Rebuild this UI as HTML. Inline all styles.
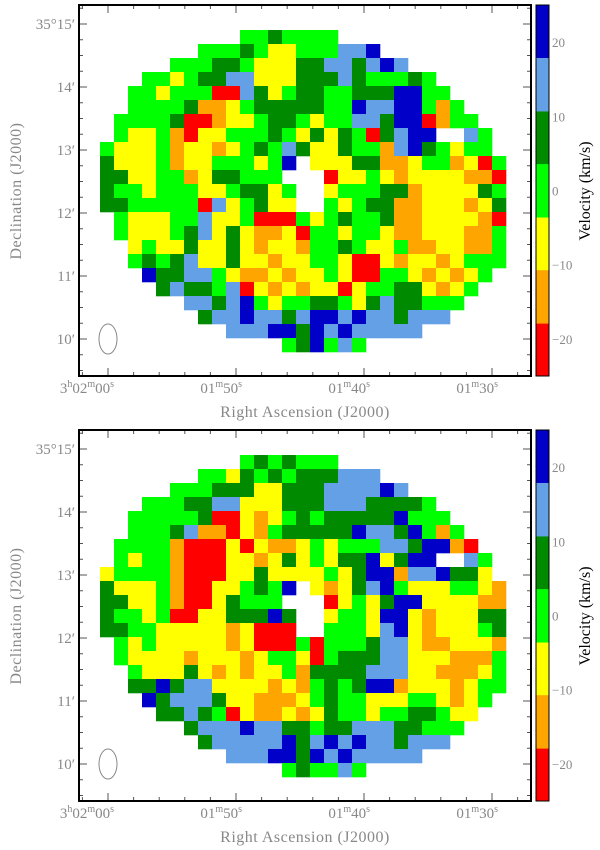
<!DOCTYPE html>
<html><head><meta charset="utf-8"><style>
body{margin:0;background:#fff}
svg{display:block;font-family:"Liberation Serif",serif}
</style></head><body>
<svg id="fig" width="600" height="850" viewBox="0 0 600 850" xmlns="http://www.w3.org/2000/svg"></svg>
<script>
// velocity bins (km/s), colours and grid codes
const binCodes=['R','O','Y','G','D','L','B'];
const binLow=[-25,-17.9,-10.7,-3.6,3.6,10.7,17.9];
const binColors=['#ff0000','#ffa500','#ffff00','#00ff00','#008a00','#64a0e6','#0000c8'];
const cbTicks=[20,10,0,-10,-20];
const decTicks=["35°15′","14′","13′","12′","11′","10′"];
const raTicks=[["3","h","02","m","00","s"],["01","m","50","s"],["01","m","40","s"],["01","m","30","s"]];
const topGrid=[
"GGGGGGGGGGGGDGGGGLGGLLGGGGGGGG",
"GGGGGGGGGGDGYYGGGLLBLLBLGGGGGG",
"GGGGGGGGDDGYYYDDLLDLBLLGGGGGGG",
"GGGGGYGDDLLYYYDDDLDGGGDGGGGGGG",
"GGGGYGGGRRLDYGDDGGDDDBBGGGGGGG",
"GGGGGGDOOYGDDDDDGGBLLBBGOGGGGG",
"GGGGGDRROYYGDDGYGGLLDBBROGGGGG",
"GGYYGORYYGGGDGYDYDGRDLBB..LGGG",
"GYYYGOYYOYGDGLDYYDGGOLBDGYGGGG",
"DYYYGOYYGGGYGB.YYYDDOOYGGOYRGG",
"DDYYGGOYDDGGG.RRRYYGYOYYYYOORG",
"DGGYGGGYYGDDYG.RYGGGDDOYYYYDGG",
"DDGGGGGRLYGDYYRRGYGDDOOYYYOYDG",
"GGYYYGGLYYGRRRGYGDGGDOOYYYYORG",
"GGYYYGDLYDYOOYRGGYGGYOOYYYOOGG",
"GDYGYYDYYDYOYYOGGDGYYGOOYYOOGG",
"DDGDGDLYYDYYOYYGGYRRYOYYOYGGGG",
"DDDBDDLLGYOOYOYYGYRRGGYOYOYGGG",
"DDDDDLDDGLRYOYOYYRYGGDDYOYGGGG",
"LLLLLDLLDLBGYGGDDGYDLDDGGGGGGG",
"LLLLLLLDLLBLLDLBBLBLLDLLLLLLLL",
"LLLLLLLLDLLLBBDBLBLLLLLLLLLLLL",
"GGGGGGGGGGGGDGDBGLGGGGGGGGGGGG"];
const botGrid=[
"GGGGGGGGGGGDGDGGGLGGGGGGGGGGGG",
"GGGGGGGGGYDGDGDDDLLLBLLGGGGGGG",
"GGGGGGGGDDDYYDDDLLLLBLLGGGGGGG",
"GGGGGGDDLLYYYDDDLLLDDDDGGGGGGG",
"GGGGGGGDRRYOYGDGDDDDDBGGGGGGGG",
"GGGGGDLOORYOGDDDDDBLLDBGOGGGGG",
"GGGGGORRRYRYOOYGYGGGLLDBBOROGG",
"GGYGGORRRYYOYDYGYDDBYDBB..LGGG",
"YGGGGORRRYYDYYYYGYDBBOLLBDDYGG",
"DYYYGORRYYGDGB.YOYDLBGYYYGGYOG",
"DDYYGORRYDGGG.RRRYGYDBBYYYYOOR",
"DGGYGRRYYDDDBD.RYGGYBBYOYYYDDG",
"DDGGYYYYYOYRRRRRGGGYLBYOYYYGDR",
"GGYGYYYYYOYRRRGRGGGDLLYOOYYYOR",
"GGYYYYOYYYOYGGYRGDDDLLYYYOOOGG",
"GDGYYYDYOYOYYGODDDDLLLYYOOOYGG",
"DDDDBDLLYYYYOYOGDGDBBOYYYOYGGG",
"DDDBDLLLDYYOOOYGDGGYYYGGYOYGGG",
"DDDDDDLDGRYOOYOYDGGYGGDDGYYGGG",
"LLLLLDDLLLBLLDDGDDLLLDDGGGGGGG",
"LLLLLLLDLLLLLBDLBLBLLDLLLLLLLL",
"LLLLLLLLDLLLBBDBLBLLLLLLLLLLLL",
"GGGGGGGGGGGGDGDGGLGGGGGGGGGGGG"];

const NS='http://www.w3.org/2000/svg';
const svg=document.getElementById('fig');
function mk(tag,attrs,parent){const e=document.createElementNS(NS,tag);for(const k in attrs)e.setAttribute(k,attrs[k]);(parent||svg).appendChild(e);return e;}
const X0=79,X1=531,CELL=14,GX=100;
// axis functions
function raX(i){return 108+128*i;}
function decY(i,top){return top+19+63*i;}
function cbY(v,top){return top+185.5-v*7.42;}
function colorOf(code){const i=binCodes.indexOf(code);return binColors[i];}

function panel(top,grid,idx){
  const g=mk('g',{});
  
  
  const bot=top+371;
  const cx=307,cy=top+186,a=207,b=156,th=10*Math.PI/180;
  const cells=mk('g',{},g);
  
  
  grid.forEach((row,r)=>{
    for(let c=0;c<30;c++){
      const ch=row[c]||'G';
      if(ch==='.')continue;
      const x=GX+c*CELL+7,y=top+25+r*CELL+7;
      const dx=x-cx,dy=y-cy;
      const u=dx*Math.cos(th)+dy*Math.sin(th),v=-dx*Math.sin(th)+dy*Math.cos(th);
      if((u/a)**2+(v/b)**2>1)continue;
      if(((x-307)/16)**2+((y-(top+184))/25)**2<=1)continue;
      const rc=mk('rect',{x:GX+c*CELL,y:top+25+r*CELL,width:CELL+0.3,height:CELL+0.3,fill:colorOf(ch)},cells);
      
      
    }
  });
  // beam
  const be=mk('ellipse',{cx:108,cy:decY(5,top),rx:9,ry:15,fill:'none',stroke:'#888','stroke-width':1},g);
  
  
  // ticks
  const tk=mk('g',{stroke:'#555','stroke-width':1},g);
  
  
  for(let i=-1;i<=4;i++){for(let k=0;k<5;k++){const x=raX(i)+k*25.6;if(x<=X0+1||x>=X1-1)continue;const L=k?4:8;
    mk('line',{x1:x,y1:bot,x2:x,y2:bot-L},tk);mk('line',{x1:x,y1:top,x2:x,y2:top+L},tk);}}
  for(let i=-1;i<=6;i++){for(let k=0;k<4;k++){const y=decY(i,top)+k*15.75;if(y<=top+1||y>=bot-1)continue;const L=k?4:8;
    mk('line',{x1:X0,y1:y,x2:X0+L,y2:y},tk);mk('line',{x1:X1,y1:y,x2:X1-L,y2:y},tk);}}
  const fr=mk('rect',{x:X0,y:top,width:X1-X0,height:bot-top,fill:'none',stroke:'#000','stroke-width':2},g);
  
  
  // dec labels
  decTicks.forEach((t,i)=>{const e=mk('text',{x:75,y:decY(i,top)+5,'text-anchor':'end','font-size':15,fill:'#888'},g);e.textContent=t;
    
    });
  // ra labels
  raTicks.forEach((parts,i)=>{const e=mk('text',{x:raX(i)+6,y:bot+17,'text-anchor':'end','font-size':15,fill:'#888'},g);
    
    
    parts.forEach((p,j)=>{const sup=/^[hms]$/.test(p);const ts=mk('tspan',{'font-size':sup?10:15,dy:sup?-6:(j>0?6:0)},e);ts.textContent=p;});});
  const xl=mk('text',{x:305,y:bot+41,'text-anchor':'middle','font-size':16,fill:'#888','letter-spacing':'0.5'},g);xl.textContent='Right Ascension (J2000)';
  
  
  const yl=mk('text',{x:0,y:0,'text-anchor':'middle','font-size':16,fill:'#888','letter-spacing':'0.5',transform:`translate(21 ${top+186}) rotate(-90)`},g);yl.textContent='Declination (J2000)';
  
  
  // colorbar
  const cb=mk('g',{},g);
  
  
  binLow.forEach((lo,i)=>{const hi=i<6?binLow[i+1]:25;const y1=cbY(hi,top),y2=cbY(lo,top);
    const r=mk('rect',{x:536,y:y1,width:13,height:y2-y1+0.3,fill:binColors[i]},cb);
    
    });
  mk('rect',{x:536,y:top,width:13,height:bot-top,fill:'none',stroke:'#000','stroke-width':1},cb);
  cbTicks.forEach(v=>{const e=mk('text',{x:552,y:cbY(v,top)+5,'font-size':13,fill:'#888'},cb);e.textContent=(v<0?'\u2212':'')+Math.abs(v);
    
    });
  const cl=mk('text',{x:0,y:0,'text-anchor':'middle','font-size':16,fill:'#000',transform:`translate(590 ${top+186}) rotate(-90)`},cb);cl.textContent='Velocity (km/s)';
  
  
}
panel(5,topGrid,1);
panel(430,botGrid,2);
</script>
</body></html>
